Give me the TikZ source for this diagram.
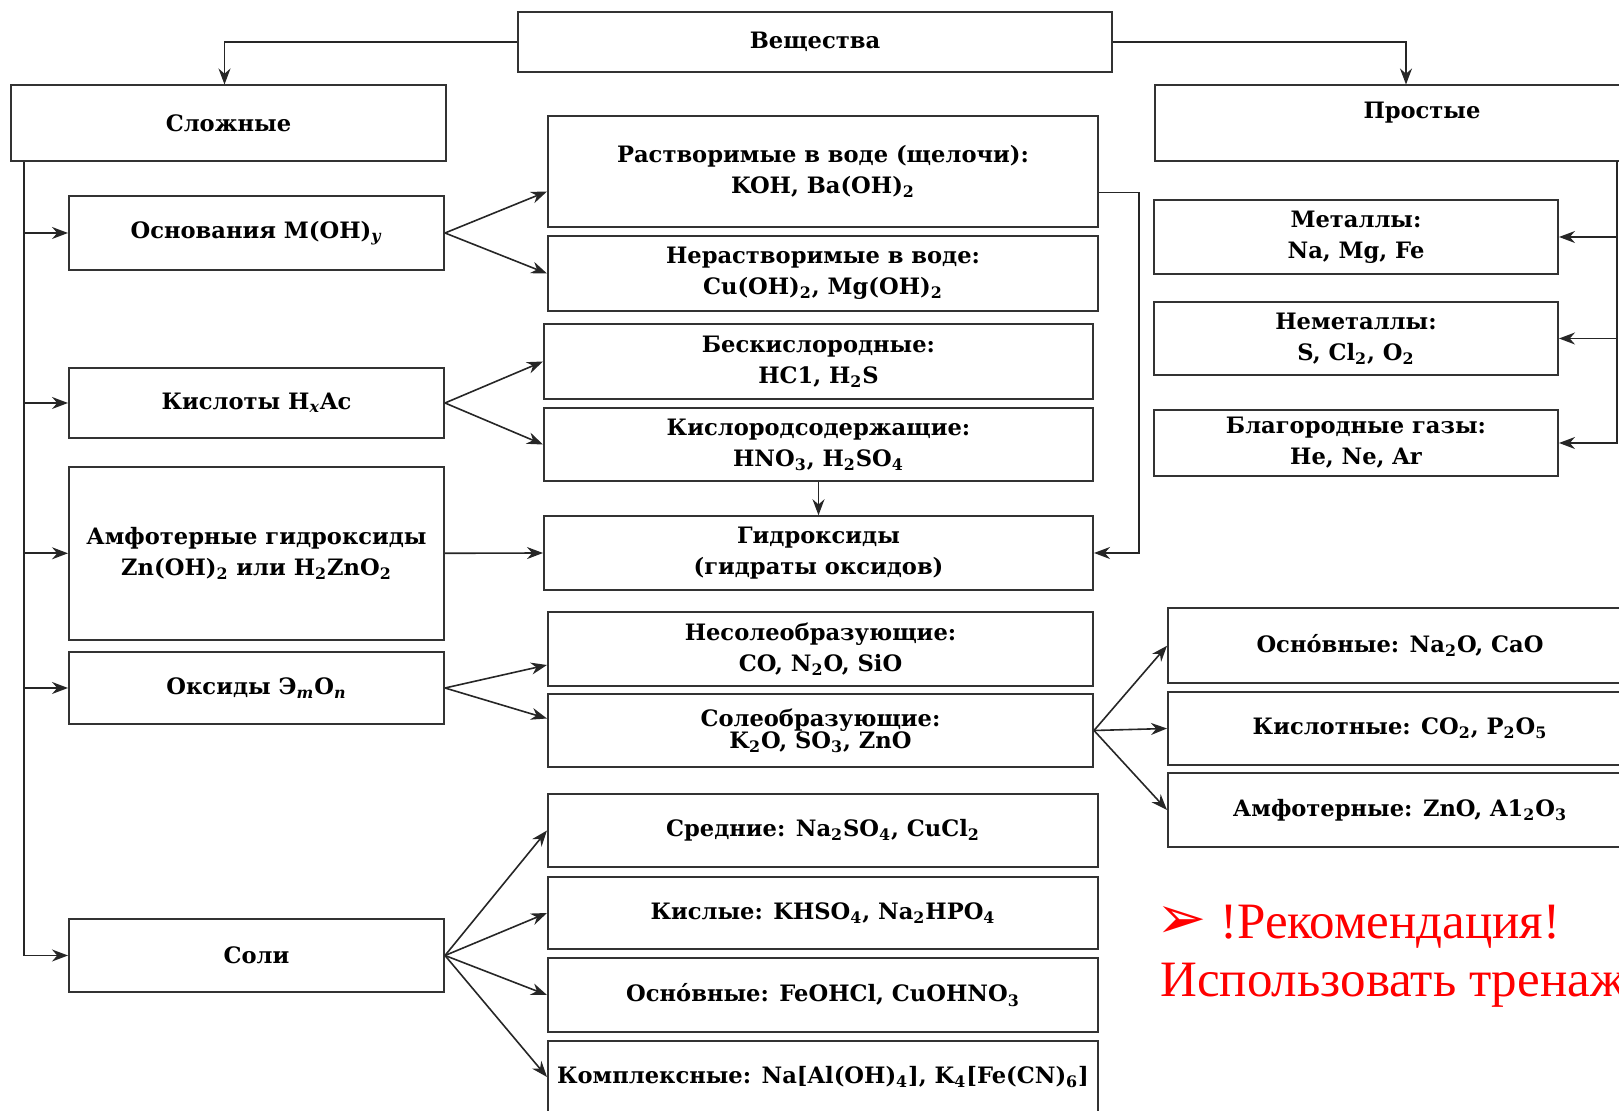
\documentclass[tikz,border=0pt]{standalone}
\usepackage{fontspec}
\setmainfont{DejaVu Serif}
\newfontfamily\recfont{Liberation Serif}
\newfontfamily\symfont{DejaVu Sans}
\usetikzlibrary{arrows.meta}
\newcommand{\subi}[1]{\textsubscript{#1}}
\tikzset{
    blk/.style 2 args={draw=black!80, line width=1pt, inner sep=0pt, align=center,
        minimum width=#1*0.5pt, minimum height=#2*0.5pt,
        font=\fontsize{11.3}{15.5}\selectfont\bfseries},
    arr/.style={-{Stealth[length=8pt,width=6pt]}, line width=0.8pt, draw=black!85},
    rec/.style={anchor=base west, inner sep=0pt, text=red},
}
\begin{document}
\begin{tikzpicture}[x=0.5pt, y=-0.5pt]
                \useasboundingbox (0,0) rectangle (1619,1111);

                \node[blk={594}{60}] (V) at (815,42) {Вещества};
                \node[blk={435}{76}] (Sl) at (228.5,123.5) {Сложные};
                \node[blk={534}{76}, text depth=13pt] (Pr) at (1422,123.5) {Простые};

                \node[blk={375}{74}] (Osn) at (256.5,233) {Основания M(OH)\subi{\textit{y}}};
                \node[blk={375}{70}] (Kis) at (256.5,403) {Кислоты H\subi{\textit{x}}Ac};
                \node[blk={375}{173}] (AmG) at (256.5,553.3) {Амфотерные гидроксиды\\Zn(OH)\subi{2} или H\subi{2}ZnO\subi{2}};
                \node[blk={375}{72}] (Oks) at (256.5,688) {Оксиды Э\subi{\textit{m}}O\subi{\textit{n}}};
                \node[blk={375}{73}] (Sol) at (256.5,955.5) {Соли};

                \node[blk={550}{111}] (Rast) at (823,171.5) {Растворимые в воде (щелочи):\\KOH, Ba(OH)\subi{2}};
                \node[blk={550}{74.5}] (Nr) at (823,273.5) {Нерастворимые в воде:\\Cu(OH)\subi{2}, Mg(OH)\subi{2}};
                \node[blk={549}{75.5}] (Bes) at (818.5,361.5) {Бескислородные:\\HC1, H\subi{2}S};
                \node[blk={549}{73}] (KsS) at (818.5,444.5) {Кислородсодержащие:\\HNO\subi{3}, H\subi{2}SO\subi{4}};
                \node[blk={549}{73.5}] (Gid) at (818.5,553) {Гидроксиды\\(гидраты оксидов)};
                \node[blk={545}{73.5}] (Nes) at (820.5,649) {Несолеобразующие:\\CO, N\subi{2}O, SiO};
                \node[blk={545}{73}] (SoO) at (820.5,730.5) {Солеобразующие:\\[-4.5pt]K\subi{2}O, SO\subi{3}, ZnO};
                \node[blk={550}{73}] (Sred) at (823,830.5) {Средние: Na\subi{2}SO\subi{4}, CuCl\subi{2}};
                \node[blk={550}{72.5}] (Kisl) at (823,913) {Кислые: KHSO\subi{4}, Na\subi{2}HPO\subi{4}};
                \node[blk={550}{73.5}] (OsnS) at (823,995) {Осно́вные: FeOHCl, CuOHNO\subi{3}};
                \node[blk={550}{72}] (Kmp) at (823,1077) {Комплексные: Na[Al(OH)\subi{4}], K\subi{4}[Fe(CN)\subi{6}]};

                \node[blk={404}{74}] (Met) at (1356,237) {Металлы:\\Na, Mg, Fe};
                \node[blk={404}{72.5}] (Nem) at (1356,338.5) {Неметаллы:\\S, Cl\subi{2}, O\subi{2}};
                \node[blk={404}{66}] (Blag) at (1356,443) {Благородные газы:\\He, Ne, Ar};

                \node[blk={464}{75.5}] (OsnO) at (1400,645.75) {Осно́вные: Na\subi{2}O, CaO};
                \node[blk={464}{73}] (KisO) at (1400,728.5) {Кислотные: CO\subi{2}, P\subi{2}O\subi{5}};
                \node[blk={464}{74}] (AmO) at (1400,810) {Амфотерные: ZnO, A1\subi{2}O\subi{3}};

                \draw[arr] (V.west) -| ([xshift=-2pt]Sl.north);
                \draw[arr] (V.east) -| ([xshift=-8pt]Pr.north);

                \coordinate (t) at ([xshift=7pt]Sl.south west);
                \draw[arr] (t) |- (Sol.west);
                \foreach \n in {Osn, Kis, AmG, Oks}
                    \draw[arr] (t |- \n.west) -- (\n.west);

                \coordinate (r) at (1617,161);
                \draw[arr] (r) |- (Blag.east);
                \foreach \n in {Met, Nem}
                    \draw[arr] (r |- \n.east) -- (\n.east);

                \draw[arr] (Osn.east) -- ([yshift=-10pt]Rast.west);
                \draw[arr] (Osn.east) -- (Nr.west);
                \draw[arr] (Kis.east) -- (Bes.west);
                \draw[arr] (Kis.east) -- (KsS.west);
                \draw[arr] (AmG.east) -- (Gid.west);
                \draw[arr] (KsS.south) -- (Gid.north);
                \draw[arr] ([yshift=-10.5pt]Rast.east) -- ++(40,0) |- (Gid.east);
                \draw[arr] (Oks.east) -- ([yshift=-8pt]Nes.west);
                \draw[arr] (Oks.east) -- ([yshift=6pt]SoO.west);
                \foreach \n in {OsnO, KisO, AmO}
                    \draw[arr] (SoO.east) -- (\n.west);
                \foreach \n in {Sred, Kisl, OsnS, Kmp}
                    \draw[arr] (Sol.east) -- (\n.west);

                \node[rec, font=\symfont\fontsize{30}{34}\selectfont] (Mark) at (1156,939) {➢};
                \node[rec, font=\recfont\fontsize{25.5}{30}\selectfont] (Rec) at (1220,939) {!Рекомендация!};
                \node[rec, font=\recfont\fontsize{25.5}{30}\selectfont] (Use) at (1160,997) {Использовать тренаж};
\end{tikzpicture}
\end{document}
